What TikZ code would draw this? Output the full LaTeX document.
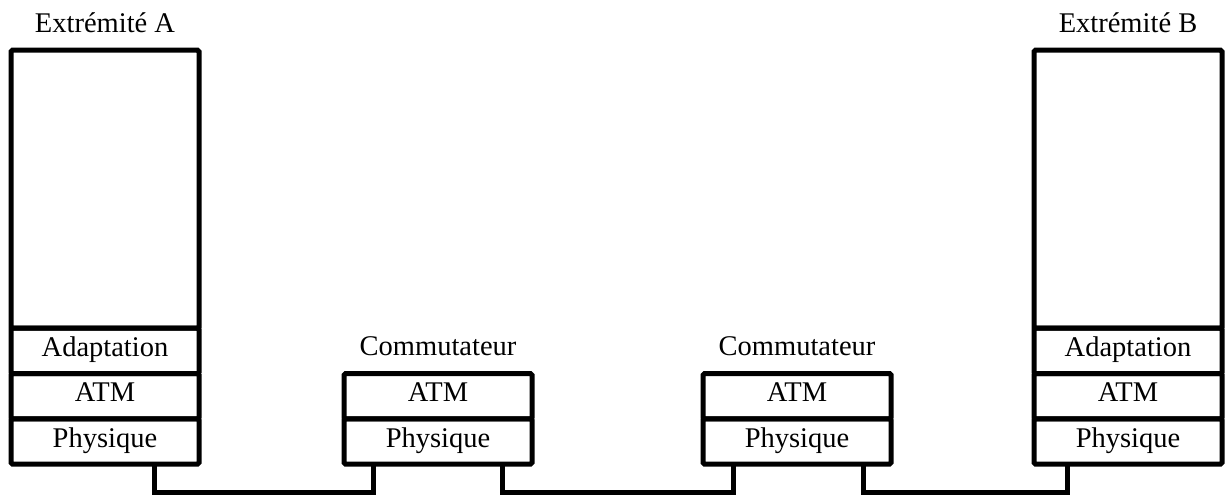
\documentclass[tikz,border=0pt]{standalone}
\usepackage{fontspec}
\setmainfont{Liberation Serif}
\usetikzlibrary{positioning}
\begin{document}
\begin{tikzpicture}[x=1pt,y=1pt,
        layer/.style={draw,line width=5pt,rounded corners=1.5pt,minimum width=188pt,minimum height=45.3pt,
            inner sep=0pt,outer sep=0pt,text height=18pt,text depth=7pt,font=\fontsize{28.5}{34}\selectfont},
        caption/.style={inner sep=0pt,anchor=base,font=\fontsize{28.5}{34}\selectfont},
        link/.style={line width=5pt}]
        \useasboundingbox (0,0) rectangle (1225,495);
        \node[layer] (aPhy) at (105,53.5) {Physique};
        \node[layer,above=0pt of aPhy] (aAtm) {ATM};
        \node[layer,above=0pt of aAtm] (aAda) {Adaptation};
        \node[layer,above=0pt of aAda,minimum height=278pt] (aTop) {};
        \node[above=18pt of aTop,caption] (aName) {Extrémité A};
        \node[layer] (c1Phy) at (438,53.5) {Physique};
        \node[layer,above=0pt of c1Phy] (c1Atm) {ATM};
        \node[above=18pt of c1Atm,caption] (c1Name) {Commutateur};
        \node[layer] (c2Phy) at (797,53.5) {Physique};
        \node[layer,above=0pt of c2Phy] (c2Atm) {ATM};
        \node[above=18pt of c2Atm,caption] (c2Name) {Commutateur};
        \node[layer] (bPhy) at (1128,53.5) {Physique};
        \node[layer,above=0pt of bPhy] (bAtm) {ATM};
        \node[layer,above=0pt of bAtm] (bAda) {Adaptation};
        \node[layer,above=0pt of bAda,minimum height=278pt] (bTop) {};
        \node[above=18pt of bTop,caption] (bName) {Extrémité B};
        \draw[link] ([xshift=49pt]aPhy.south) -- ++(0,-28) -| ([xshift=-65pt]c1Phy.south);
        \draw[link] ([xshift=64pt]c1Phy.south) -- ++(0,-28) -| ([xshift=-64pt]c2Phy.south);
        \draw[link] ([xshift=66pt]c2Phy.south) -- ++(0,-28) -| ([xshift=-61pt]bPhy.south);
    \end{tikzpicture}
\end{document}
